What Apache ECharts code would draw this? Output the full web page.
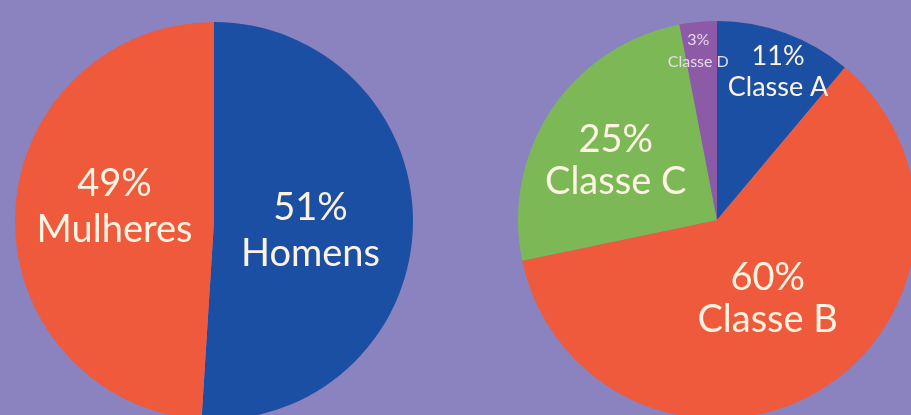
<!DOCTYPE html>
<html>
<head>
<meta charset="utf-8">
<script src="https://cdn.jsdelivr.net/npm/echarts@6/dist/echarts.min.js"></script>
<style>
  html, body { margin: 0; padding: 0; background: #8a83c0; }
  #echarts { width: 911px; height: 415px; }
</style>
</head>
<body>
<div id="echarts"></div>
<script>
// dados
var generoNomes = ['Homens', 'Mulheres'];
var generoValores = [51, 49];
var classeNomes = ['Classe A', 'Classe B', 'Classe C', 'Classe D'];
var classeValores = [11, 60, 25, 3];

var corTexto = '#fdf3e3';

var myChart = echarts.init(document.getElementById('echarts'));

function montar(nomes, valores, cores) {
    return nomes.map(function (n, i) {
        return { name: n, value: valores[i], itemStyle: { color: cores[i] } };
    });
}

var dadosClasse = montar(classeNomes, classeValores, ['#1b4fa3', '#ef5a3c', '#7cb956', '#8c5aa6']);
dadosClasse[0].label = { fontSize: 27, lineHeight: 31 };
dadosClasse[3].label = { fontSize: 16, lineHeight: 22, color: '#e6d9f0' };

option = {
    backgroundColor: '#8a83c0',
    animation: false,
    series: [
    {
        type: 'pie',
        center: [214, 221],
        radius: 199,
        startAngle: 90,
        emphasis: { disabled: true },
        label: {
            show: true,
            position: 'inside',
            formatter: '{c}%\n{b}',
            color: corTexto,
            fontFamily: 'Lato',
            fontSize: 38,
            lineHeight: 46
        },
        labelLine: { show: false },
        labelLayout: function (p) {
            if (p.dataIndex === 0) return { dx: -6, dy: 7 };
            return { dx: 3, dy: -11 };
        },
        data: montar(generoNomes, generoValores, ['#1b4fa3', '#ef5a3c'])
    },
    {
        type: 'pie',
        center: [717, 220],
        radius: 199,
        startAngle: 90,
        emphasis: { disabled: true },
        label: {
            show: true,
            position: 'inside',
            formatter: '{c}%\n{b}',
            color: corTexto,
            fontFamily: 'Lato',
            fontSize: 38,
            lineHeight: 42
        },
        labelLine: { show: false },
        labelLayout: function (p) {
            if (p.dataIndex === 0) return { dx: 26, dy: -52 };
            if (p.dataIndex === 2) return { dx: -16, dy: -2 };
            if (p.dataIndex === 3) return { dx: -9, dy: -67 };
            return { dx: -2, dy: -9 };
        },
        data: dadosClasse
    }
    ]
};
myChart.setOption(option);
</script>
</body>
</html>
